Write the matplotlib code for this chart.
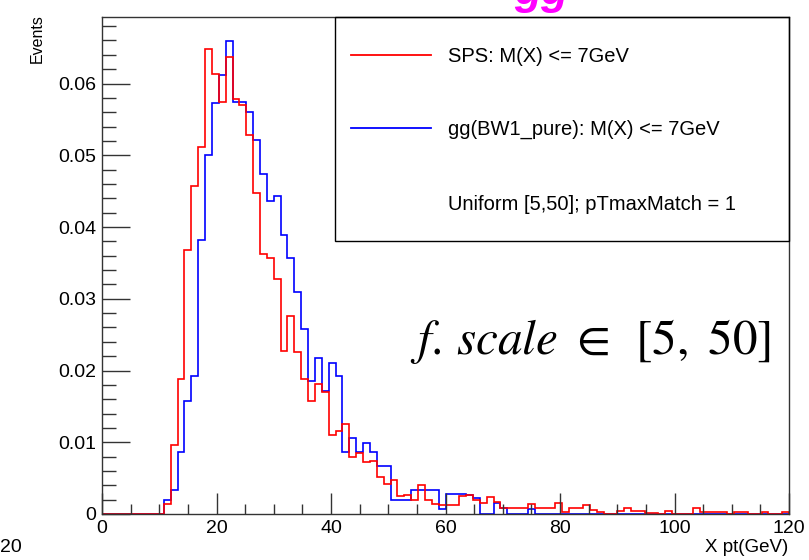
import numpy as np
import matplotlib
matplotlib.use("Agg")
import matplotlib.pyplot as plt
from matplotlib.lines import Line2D
from matplotlib.patches import Rectangle
from matplotlib.ticker import MultipleLocator, FuncFormatter

# ---------------- data ----------------
bin_edges = np.linspace(0, 120, 101)  # 100 bins of 1.2 GeV

sps_values = [
    0, 0, 0, 0, 0, 0, 0, 0, 0, 0.0014,
    0.0096, 0.0188, 0.0368, 0.0457, 0.0511, 0.0648, 0.0613, 0.0574, 0.0637, 0.0578,
    0.0570, 0.0528, 0.0447, 0.0363, 0.0357, 0.0327, 0.0227, 0.0276, 0.0226, 0.0188,
    0.0158, 0.0181, 0.0170, 0.0110, 0.0115, 0.0125, 0.0080, 0.0085, 0.0073, 0.0074,
    0.0051, 0.0042, 0.0047, 0.0025, 0.0026, 0.0019, 0.0040, 0.0019, 0.0014, 0.0012,
    0.0012, 0.0012, 0.0025, 0.0026, 0.0020, 0.0015, 0.0024, 0.0017, 0.0009, 0.0008,
    0.0009, 0.0009, 0.0014, 0.0009, 0.0009, 0.0009, 0.0016, 0.0003, 0.0008, 0.0008,
    0.0012, 0.0005, 0.0003, 0, 0, 0.0004, 0.0008, 0.0004, 0.0004, 0.0002,
    0.0002, 0, 0.0004, 0, 0, 0, 0.0008, 0.0003, 0.0003, 0.0003,
    0.0003, 0, 0.0003, 0.0003, 0, 0, 0.0003, 0, 0, 0.0003,
]

gg_values = [
    0, 0, 0, 0, 0, 0, 0, 0, 0, 0.0020,
    0.0034, 0.0086, 0.0158, 0.0192, 0.0382, 0.0500, 0.0573, 0.0612, 0.0659, 0.0574,
    0.0574, 0.0560, 0.0521, 0.0474, 0.0436, 0.0443, 0.0389, 0.0357, 0.0310, 0.0258,
    0.0185, 0.0218, 0.0171, 0.0211, 0.0192, 0.0087, 0.0106, 0.0087, 0.0099, 0.0087,
    0.0067, 0.0067, 0.0020, 0.0020, 0.0020, 0.0033, 0.0033, 0.0033, 0.0033, 0.0007,
    0.0028, 0.0028, 0.0028, 0.0026, 0.0022, 0, 0, 0.0015, 0.0008, 0,
    0, 0, 0.0007, 0, 0, 0, 0, 0, 0, 0,
    0, 0, 0, 0, 0, 0, 0, 0, 0, 0,
    0, 0, 0, 0, 0, 0, 0, 0, 0, 0,
    0, 0, 0, 0, 0, 0, 0, 0, 0, 0,
]

legend_labels = ["SPS: M(X) <= 7GeV", "gg(BW1_pure): M(X) <= 7GeV",
                 "Uniform [5,50]; pTmaxMatch = 1"]
x_label = "X pt(GeV)"
y_label = "Events"
x_ticks = [0, 20, 40, 60, 80, 100, 120]
y_ticks = [0, 0.01, 0.02, 0.03, 0.04, 0.05, 0.06]

# ---------------- figure ----------------
W, H = 809, 560
fig = plt.figure(figsize=(W / 100, H / 100), dpi=100)
plt.rcParams['font.family'] = ['Liberation Sans', 'DejaVu Sans']
plt.rcParams['mathtext.fontset'] = 'stix'

def fx(x):
    return x / W

def fy(y):
    return 1 - y / H

ax_l, ax_r, ax_t, ax_b = 102, 789, 17, 514
ax = fig.add_axes([fx(ax_l), fy(ax_b), (ax_r - ax_l) / W, (ax_b - ax_t) / H])

ax.stairs(gg_values, bin_edges, color='#0000ff', lw=1.2)
ax.stairs(sps_values, bin_edges, color='#ff0000', lw=1.2)

ax.set_xlim(0, 120)
ax.set_ylim(0, 0.06927)

frame_col = '#333333'
for s in ax.spines.values():
    s.set_color(frame_col)
    s.set_linewidth(1.0)

ax.set_xticks(x_ticks)
ax.set_yticks(y_ticks)
ax.xaxis.set_minor_locator(MultipleLocator(5))
ax.yaxis.set_minor_locator(MultipleLocator(0.002))
ax.yaxis.set_major_formatter(FuncFormatter(lambda v, p: '0' if abs(v) < 1e-12 else f'{v:.2f}'))
ax.tick_params(axis='both', which='both', direction='in', colors=frame_col,
               labelcolor='black', top=False, right=False)
ax.tick_params(axis='x', which='major', length=15, width=1, labelsize=14, pad=4)
ax.tick_params(axis='x', which='minor', length=7, width=1)
ax.tick_params(axis='y', which='major', length=20, width=1, labelsize=14, pad=4)
ax.tick_params(axis='y', which='minor', length=10, width=1)

# axis titles
fig.text(fx(788), fy(548), x_label, ha='right', va='center', fontsize=13.5)
fig.text(fx(37), fy(14), y_label, ha='center', va='top', rotation=90, fontsize=11.5)

# label from neighbouring panel
fig.text(fx(22), fy(548), "20", ha='right', va='center', fontsize=14)

# legend box
fig.patches.append(Rectangle((fx(335), fy(241)), fx(789) - fx(335), fy(17) - fy(241),
                             transform=fig.transFigure, fill=False, ec='black', lw=1.0))
fig.lines.append(Line2D([fx(351), fx(431)], [fy(54.5), fy(54.5)],
                        transform=fig.transFigure, color='#ff0000', lw=1.3))
fig.lines.append(Line2D([fx(351), fx(431)], [fy(128.3), fy(128.3)],
                        transform=fig.transFigure, color='#0000ff', lw=1.3))
fig.text(fx(448), fy(56), legend_labels[0], ha='left', va='center', fontsize=14.5)
fig.text(fx(448), fy(129), legend_labels[1], ha='left', va='center', fontsize=14.5)
fig.text(fx(448), fy(204), legend_labels[2], ha='left', va='center', fontsize=14.5)

# annotation
fig.text(fx(410), fy(354), r'$f.\,scale\ \in\ \,[5,\ 50]$', ha='left', va='baseline',
         fontsize=35.5)

# clipped title
fig.text(fx(541), fy(4), 'gg', ha='center', va='baseline', fontsize=32,
         style='italic', weight='bold', color='#ff00ff')

fig.savefig('out.png', dpi=100)
